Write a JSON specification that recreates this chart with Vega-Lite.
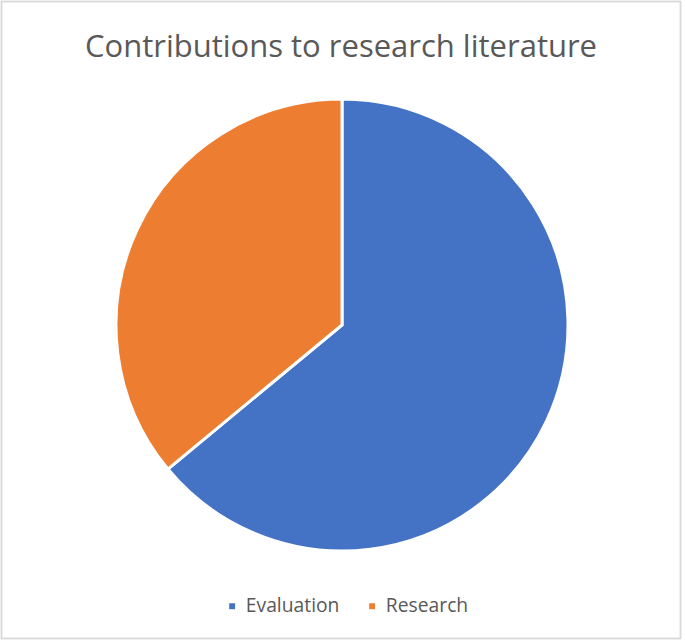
{
  "$schema": "https://vega.github.io/schema/vega-lite/v6.json",
  "width": 679,
  "height": 637,
  "padding": {"left": 1.5, "top": 1.5, "right": 4.5, "bottom": 2.5},
  "autosize": {"type": "none"},
  "background": "white",
  "config": {"view": {"stroke": null}, "font": "Open Sans"},
  "title": {
    "text": "Contributions to research literature",
    "orient": "top",
    "anchor": "middle",
    "offset": -63,
    "fontSize": 31,
    "font": "Open Sans",
    "fontWeight": "normal",
    "color": "#595959"
  },
  "data": {"values": [
    {"category": "Evaluation", "value": 64},
    {"category": "Research", "value": 36}
  ]},
  "layer": [
    {
      "mark": {"type": "rect", "fill": null, "stroke": "#d9d9d9", "strokeWidth": 1.5},
      "encoding": {
        "x": {"value": 0},
        "x2": {"value": "width"},
        "y": {"value": 0},
        "y2": {"value": "height"}
      }
    },
    {
      "mark": {"type": "arc", "outerRadius": 226, "stroke": "white", "strokeWidth": 3, "xOffset": 1, "yOffset": 5},
      "encoding": {
        "theta": {"field": "value", "type": "quantitative", "stack": true},
        "color": {
          "field": "category",
          "type": "nominal",
          "scale": {"domain": ["Evaluation", "Research"], "range": ["#4472C4", "#ED7D31"]},
          "legend": {
            "title": null,
            "orient": "none",
            "direction": "horizontal",
            "legendX": 221,
            "legendY": 595,
            "symbolType": "square",
            "symbolSize": 55,
            "labelFontSize": 19.3,
            "labelFont": "Open Sans",
            "labelColor": "#595959",
            "labelLimit": 300,
            "columnPadding": 23,
            "symbolOffset": 0
          }
        }
      }
    }
  ]
}
